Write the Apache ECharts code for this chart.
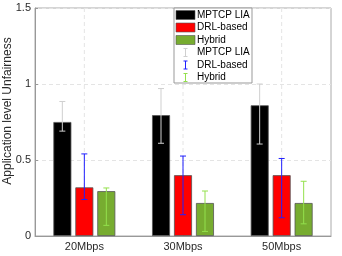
<!DOCTYPE html>
<html><head><meta charset="utf-8">
<script src="https://cdn.jsdelivr.net/npm/echarts@6/dist/echarts.min.js"></script>
<style>html,body{margin:0;padding:0;background:#fff}#c{width:342px;height:256px}</style>
</head><body><div id="c"></div>
<script>
const categories = ['20Mbps', '30Mbps', '50Mbps'];
const seriesNames = ['MPTCP LIA', 'DRL-based', 'Hybrid'];
const yTitle = 'Application level Unfairness';
const liaValues = [0.75, 0.795, 0.86];
const drlValues = [0.32, 0.40, 0.40];
const hybridValues = [0.295, 0.217, 0.217];
const liaLow = [0.69, 0.61, 0.605];
const liaHigh = [0.885, 0.97, 1.0];
const drlLow = [0.24, 0.14, 0.12];
const drlHigh = [0.54, 0.526, 0.51];
const hybridLow = [0.07, 0.03, 0.08];
const hybridHigh = [0.316, 0.296, 0.36];
const yTicks = [0, 0.5, 1, 1.5];

const barColors = ['#000000', '#ff0000', '#77ac30'];
const errColors = ['#cfcfcf', '#2020ff', '#93e04c'];
const values = [liaValues, drlValues, hybridValues];
const lows = [liaLow, drlLow, hybridLow];
const highs = [liaHigh, drlHigh, hybridHigh];
const BW = 18, STEP = 22;
const FONT = 'Liberation Sans, Arial, sans-serif';

const chart = echarts.init(document.getElementById('c'), null, {renderer: 'canvas'});
const series = [];
// vertical dashed grid lines at category centres (behind bars)
series.push({
  type: 'custom', z: 1, silent: true,
  data: categories.map((c, k) => [k]),
  renderItem: function (params, api) {
    const b = api.coord([api.value(0), yTicks[0]]);
    const t = api.coord([api.value(0), yTicks[yTicks.length - 1]]);
    return {type: 'line', shape: {x1: b[0], y1: b[1], x2: t[0], y2: t[1]},
      style: {stroke: '#e4e4e4', lineWidth: 1, lineDash: [4, 3]}};
  }
});
values.forEach((v, i) => {
  series.push({
    type: 'bar', name: seriesNames[i], data: v, barWidth: BW, barGap: '22%',
    itemStyle: {color: barColors[i], borderColor: '#555', borderWidth: 0.8},
    z: 2
  });
});
values.forEach((v, i) => {
  series.push({
    type: 'custom', name: seriesNames[i] + ' err',
    data: categories.map((c, k) => [k, lows[i][k], highs[i][k]]),
    z: 5,
    renderItem: function (params, api) {
      const lo = api.coord([api.value(0), api.value(1)]);
      const hi = api.coord([api.value(0), api.value(2)]);
      const x = lo[0] + (i - 1) * STEP;
      const cw = 3;
      const st = {stroke: errColors[i], lineWidth: 1};
      return {type: 'group', children: [
        {type: 'line', shape: {x1: x, y1: lo[1], x2: x, y2: hi[1]}, style: st},
        {type: 'line', shape: {x1: x - cw, y1: lo[1], x2: x + cw, y2: lo[1]}, style: st},
        {type: 'line', shape: {x1: x - cw, y1: hi[1], x2: x + cw, y2: hi[1]}, style: st}
      ]};
    }
  });
});

// legend drawn as graphics
const lg = [];
const lx = 174, ly = 8;
lg.push({type: 'rect', shape: {x: lx, y: ly, width: 78, height: 75}, style: {fill: '#fff', stroke: '#999', lineWidth: 1}, z: 100});
const rowY = [15, 27.5, 40, 52.5, 65, 77.5];
for (let i = 0; i < 3; i++) {
  lg.push({type: 'rect', shape: {x: 176, y: rowY[i] - 4.5, width: 19, height: 9}, style: {fill: barColors[i], stroke: '#555', lineWidth: 0.6}, z: 101});
  lg.push({type: 'text', style: {x: 197, y: rowY[i], text: seriesNames[i], fill: '#000', font: '10px "Liberation Sans", Arial, sans-serif', textVerticalAlign: 'middle'}, z: 101});
}
for (let i = 0; i < 3; i++) {
  const y = rowY[i + 3], x = 185.5;
  const st = {stroke: errColors[i], lineWidth: 1};
  lg.push({type: 'line', shape: {x1: x, y1: y - 4, x2: x, y2: y + 4}, style: st, z: 101});
  lg.push({type: 'line', shape: {x1: x - 2, y1: y - 4, x2: x + 2, y2: y - 4}, style: st, z: 101});
  lg.push({type: 'line', shape: {x1: x - 2, y1: y + 4, x2: x + 2, y2: y + 4}, style: st, z: 101});
  lg.push({type: 'text', style: {x: 197, y: y, text: seriesNames[i], fill: '#000', font: '10px "Liberation Sans", Arial, sans-serif', textVerticalAlign: 'middle'}, z: 101});
}
// y-axis title
lg.push({type: 'text', x: 8, y: 111, rotation: Math.PI / 2,
  style: {text: yTitle, fill: '#2a2a2a', font: '12px "Liberation Sans", Arial, sans-serif', textAlign: 'center', textVerticalAlign: 'middle'}, z: 50});

chart.setOption({
  animation: false,
  backgroundColor: '#fff',
  grid: {left: 35, right: 11, top: 8, bottom: 20, show: true, borderColor: '#aaa', borderWidth: 1,
    containLabel: false, outerBoundsMode: 'none'},
  xAxis: {
    type: 'category', data: categories,
    axisLine: {lineStyle: {color: '#999'}},
    axisTick: {show: true, alignWithLabel: true, length: -3, lineStyle: {color: '#999'}},
    axisLabel: {color: '#2a2a2a', fontSize: 11, fontFamily: FONT, margin: 5},
    splitLine: {show: false}
  },
  yAxis: {
    type: 'value', min: 0, max: 1.5, interval: 0.5,
    axisLine: {show: true, lineStyle: {color: '#999'}},
    axisTick: {show: true, length: -3, lineStyle: {color: '#999'}},
    axisLabel: {color: '#2a2a2a', fontSize: 11, fontFamily: FONT, margin: 4,
      formatter: v => String(yTicks.find(t => Math.abs(t - v) < 1e-9) ?? v)},
    splitLine: {show: true, lineStyle: {color: '#e4e4e4', type: [4, 3]}}
  },
  series: series,
  graphic: lg
});
</script></body></html>
